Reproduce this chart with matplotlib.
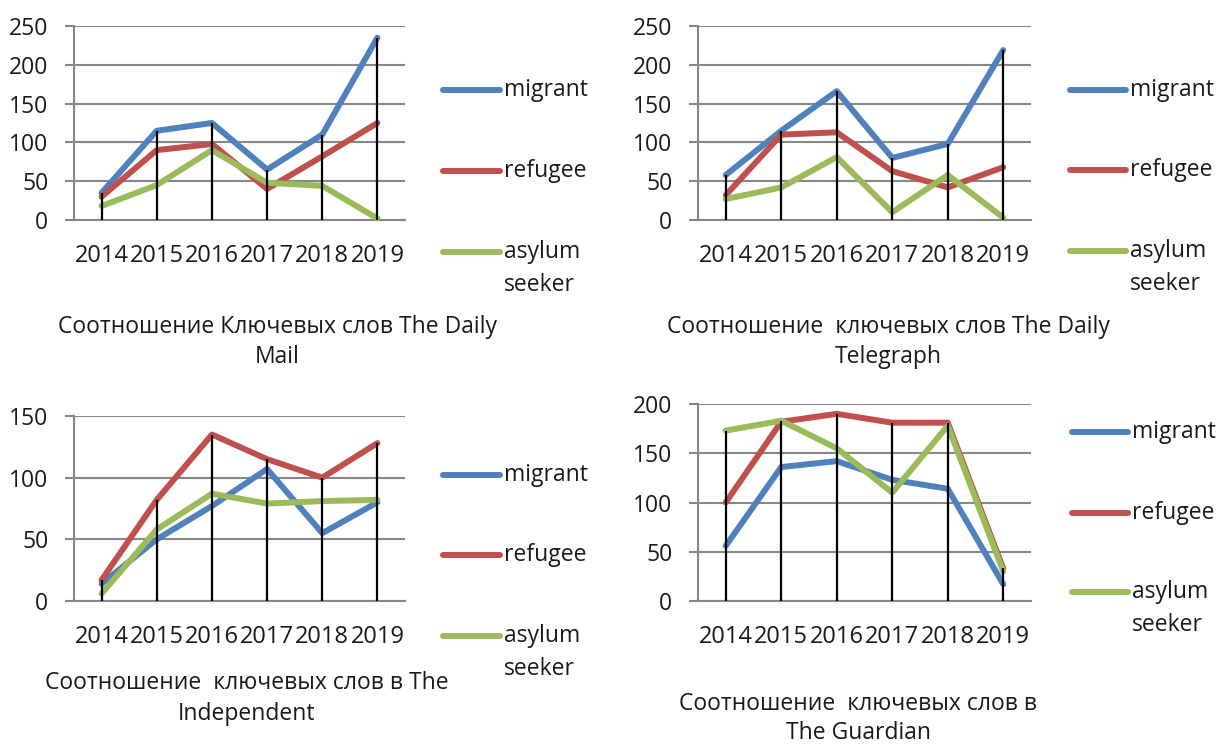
import matplotlib.pyplot as plt
from matplotlib.lines import Line2D

# ---- размеры картинки в пикселях
W, H = 1218, 747
plt.rcParams['font.family'] = ['Open Sans', 'DejaVu Sans']

years = ['2014', '2015', '2016', '2017', '2018', '2019']
labels = ['migrant', 'refugee', 'asylum\nseeker']
colors = ['#4F81BD', '#C0504D', '#9BBB59']

mail_migrant = [35, 115, 125, 65, 110, 235]
mail_refugee = [30, 90, 98, 40, 82, 125]
mail_asylum = [18, 45, 90, 48, 44, 2]

tel_migrant = [58, 115, 166, 80, 98, 219]
tel_refugee = [32, 110, 113, 63, 42, 68]
tel_asylum = [27, 42, 81, 10, 58, 3]

ind_migrant = [14, 50, 77, 107, 55, 80]
ind_refugee = [17, 82, 135, 115, 100, 128]
ind_asylum = [6, 58, 87, 79, 81, 82]

gua_migrant = [56, 136, 142, 123, 114, 17]
gua_refugee = [100, 182, 190, 181, 181, 33]
gua_asylum = [173, 183, 155, 110, 178, 30]

titles = [
    ['Соотношение Ключевых слов The Daily', 'Mail'],
    ['Соотношение  ключевых слов The Daily', 'Telegraph'],
    ['Соотношение  ключевых слов в The', 'Independent'],
    ['Соотношение  ключевых слов в', 'The Guardian'],
]

# ---- раскладка: (x0, y_top, x1, y_zero) в пикселях, ymax, шаг
panels = [
    dict(data=[mail_migrant, mail_refugee, mail_asylum], box=(74, 26, 405, 220), ymax=250, step=50,
         leg_x=(443, 500), leg_y=(90, 171, 252), title_x=277, title_y=(327, 357)),
    dict(data=[tel_migrant, tel_refugee, tel_asylum], box=(698, 26, 1031, 220), ymax=250, step=50,
         leg_x=(1070, 1126), leg_y=(90, 170, 251), title_x=888, title_y=(327, 357)),
    dict(data=[ind_migrant, ind_refugee, ind_asylum], box=(74, 416, 405, 601), ymax=150, step=50,
         leg_x=(443, 500), leg_y=(475, 555, 636), title_x=247, title_y=(683, 714)),
    dict(data=[gua_migrant, gua_refugee, gua_asylum], box=(698, 404, 1031, 601), ymax=200, step=50,
         leg_x=(1072, 1128), leg_y=(432, 513, 592), title_x=858, title_y=(704, 733)),
]

GRID = '#878787'
TXT = '#1a1a1a'

fig = plt.figure(figsize=(W / 100, H / 100), dpi=100)


def fx(x):
    return x / W


def fy(y):
    return 1 - y / H


for p, title in zip(panels, titles):
    x0, yt, x1, yb = p['box']
    ax = fig.add_axes([fx(x0), fy(yb), (x1 - x0) / W, (yb - yt) / H])
    xs = range(len(years))

    for vals, c in zip(p['data'], colors):
        ax.plot(xs, vals, color=c, lw=4.3, solid_capstyle='round', clip_on=False, zorder=3)

    # вертикальные линии проекции (от максимума к нулю)
    tops = [max(v) for v in zip(*p['data'])]
    ax.vlines(xs, 0, tops, color='black', lw=1.6, zorder=4, clip_on=False)

    ax.set_xlim(-0.5, len(years) - 0.5)
    ax.set_ylim(0, p['ymax'])
    ax.set_yticks(range(0, p['ymax'] + 1, p['step']))
    ax.set_xticks(list(xs))
    ax.set_xticklabels(years)
    ax.grid(axis='y', color=GRID, lw=1.5, zorder=1)
    ax.set_axisbelow(True)
    for s in ['top', 'right']:
        ax.spines[s].set_visible(False)
    for s in ['left', 'bottom']:
        ax.spines[s].set_color(GRID)
        ax.spines[s].set_linewidth(1.5)
    ax.tick_params(axis='y', length=6.5, width=1.5, color=GRID, pad=12, labelsize=16.5, labelcolor=TXT)
    ax.tick_params(axis='x', length=0, pad=17, labelsize=17, labelcolor=TXT)

    # легенда
    lx0, lx1 = p['leg_x']
    for lab, c, ly in zip(labels, colors, p['leg_y']):
        fig.add_artist(Line2D([fx(lx0), fx(lx1)], [fy(ly), fy(ly)], color=c, lw=4.3,
                              solid_capstyle='round'))
        for k, part in enumerate(lab.split('\n')):
            fig.text(fx(lx1 + 4), fy(ly + 33 * k), part, fontsize=16.5, color=TXT,
                     ha='left', va='center')

    # подпись под графиком
    for line, ty in zip(title, p['title_y']):
        fig.text(fx(p['title_x']), fy(ty), line, fontsize=16.5, color=TXT, ha='center', va='center')

fig.savefig('out.png', dpi=100)
